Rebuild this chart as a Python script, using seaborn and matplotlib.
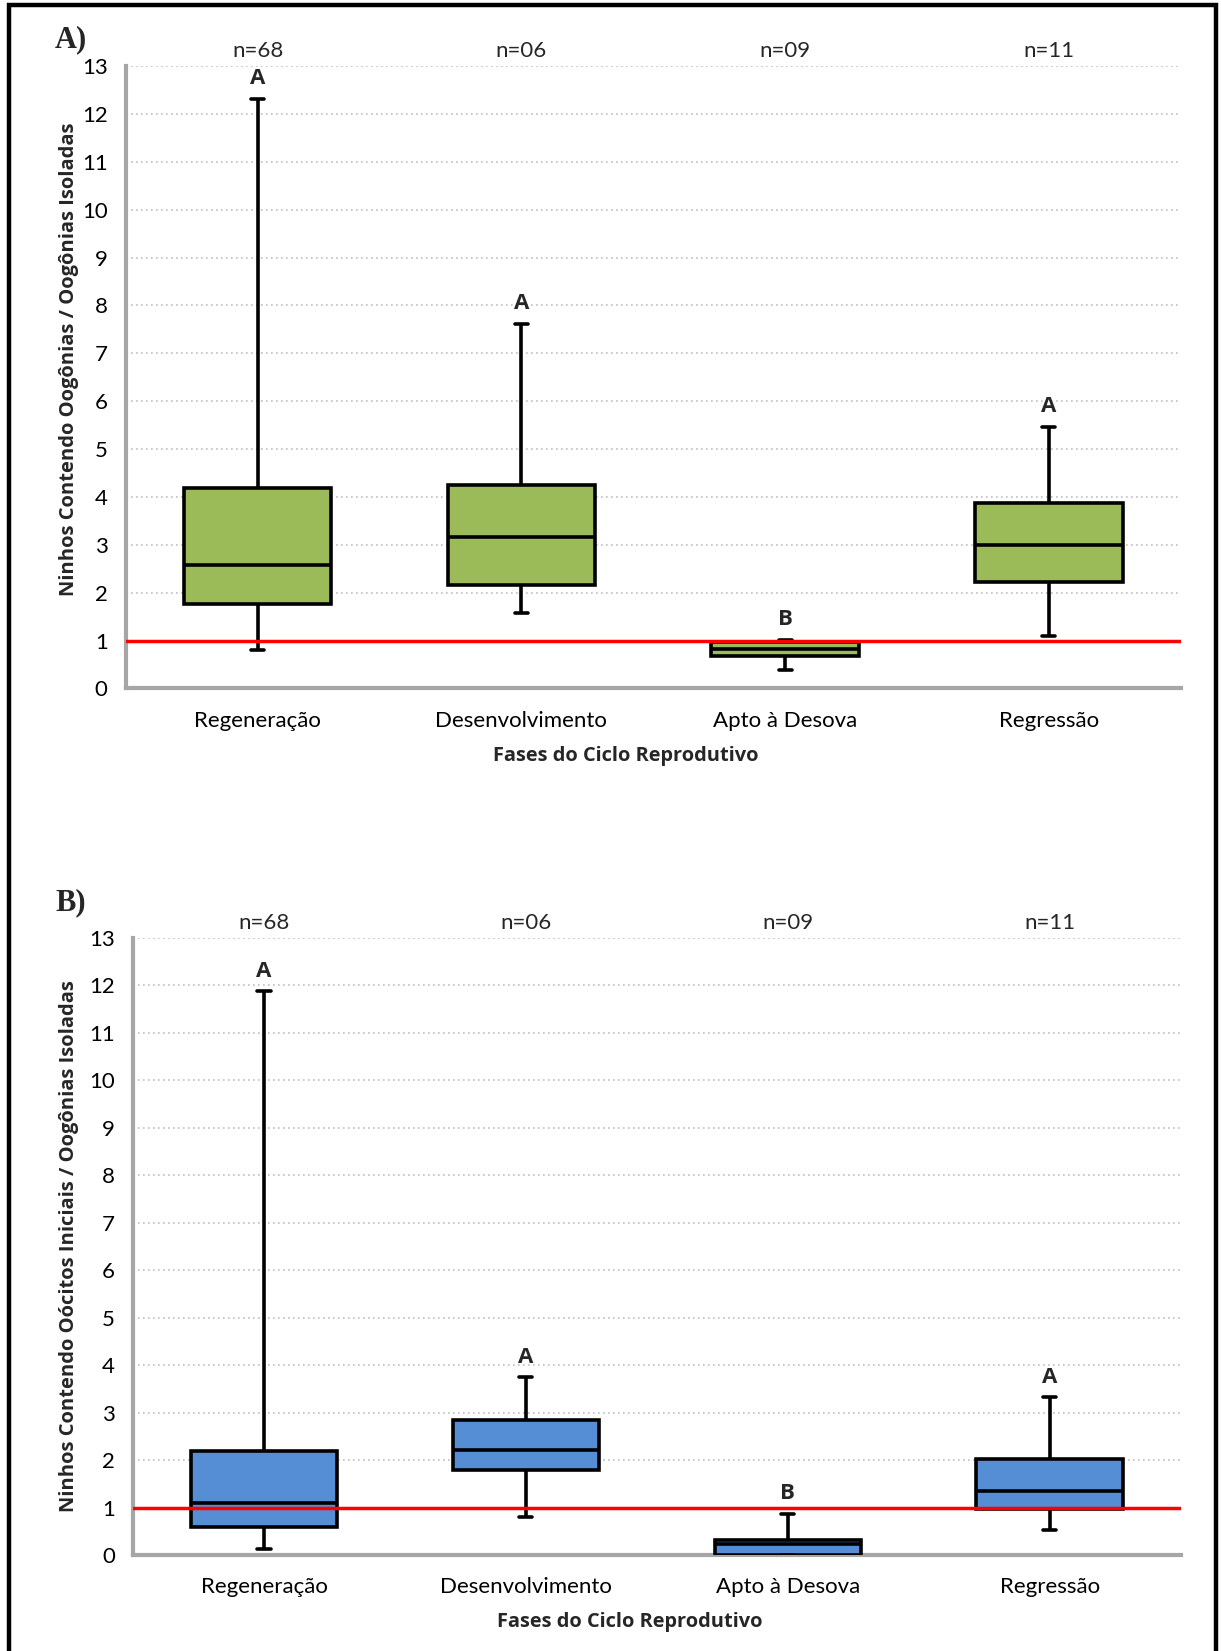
import matplotlib
matplotlib.use("Agg")
import matplotlib.pyplot as plt
import seaborn as sns
import pandas as pd
from matplotlib.patches import Rectangle

sns.set_theme(style="white")
plt.rcParams["font.family"] = ["Lato", "DejaVu Sans"]

COR_EIXO = "#A6A6A6"
VERDE = "#9BBB59"
AZUL = "#558ED5"
FONTE_NEGRITO = ["Open Sans", "DejaVu Sans"]

fases = ["Regeneração", "Desenvolvimento", "Apto à Desova", "Regressão"]
n_amostras = ["n=68", "n=06", "n=09", "n=11"]

# painel A - ninhos contendo oogonias / oogonias isoladas (resumo de 5 numeros)
a_min = [0.81, 1.58, 0.39, 1.10]
a_q1 = [1.76, 2.16, 0.68, 2.22]
a_med = [2.57, 3.17, 0.83, 2.99]
a_q3 = [4.18, 4.25, 0.97, 3.87]
a_max = [12.32, 7.61, 1.02, 5.46]
a_letras = ["A", "A", "B", "A"]

# painel B - ninhos contendo oocitos iniciais / oogonias isoladas
b_min = [0.13, 0.80, 0.00, 0.53]
b_q1 = [0.60, 1.80, 0.00, 0.98]
b_med = [1.11, 2.22, 0.24, 1.35]
b_q3 = [2.20, 2.84, 0.33, 2.02]
b_max = [11.87, 3.75, 0.87, 3.33]
b_letras = ["A", "A", "B", "A"]


def montar_tabela(minimos, q1, med, q3, maximos):
    """Cada fase vira 5 pontos (min, q1, mediana, q3, max) -> o boxplot recupera os quartis."""
    linhas = []
    for fase, valores in zip(fases, zip(minimos, q1, med, q3, maximos)):
        for v in valores:
            linhas.append({"fase": fase, "valor": v})
    return pd.DataFrame(linhas)


def desenhar_painel(ax, minimos, q1, med, q3, maximos, letras, cor, ylabel, ylabel_x, ylabel_y):
    df = montar_tabela(minimos, q1, med, q3, maximos)
    sns.boxplot(data=df, x="fase", y="valor", order=fases, color=cor, saturation=1,
                width=0.56, whis=(0, 100), linecolor="black", linewidth=2.6,
                capwidths=0.05, ax=ax, zorder=3)

    # linha de referencia em 1
    ax.axhline(1, color="red", linewidth=2.5, zorder=6)

    ax.set_xlim(-0.5, 3.5)
    ax.set_ylim(0, 13)
    ax.set_yticks(range(14))
    ax.yaxis.grid(True, linestyle=(0, (1, 2)), color="#BFBFBF", linewidth=1.2)
    ax.xaxis.grid(False)
    ax.set_axisbelow(True)

    for lado in ["top", "right"]:
        ax.spines[lado].set_visible(False)
    for lado in ["left", "bottom"]:
        ax.spines[lado].set_color(COR_EIXO)
        ax.spines[lado].set_linewidth(3)

    # ticks nas divisas das categorias, rotulos no centro
    ax.set_xticks([-0.5, 0.5, 1.5, 2.5, 3.5])
    ax.set_xticklabels([])
    ax.set_xticks(range(len(fases)), minor=True)
    ax.set_xticklabels(fases, minor=True)
    ax.tick_params(axis="x", which="major", direction="inout", length=13, width=3,
                   color=COR_EIXO)
    ax.tick_params(axis="x", which="minor", length=0, pad=16, labelsize=16,
                   labelcolor="black")
    ax.tick_params(axis="y", direction="out", length=6, width=3, color=COR_EIXO,
                   labelsize=16, pad=7, labelcolor="black")

    ax.set_xlabel("Fases do Ciclo Reprodutivo", fontsize=14.4, fontweight="bold",
                  family=FONTE_NEGRITO)
    ax.xaxis.set_label_coords(0.474, -0.092)
    ax.set_ylabel(ylabel, fontsize=14.5, fontweight="bold", family=FONTE_NEGRITO)
    ax.yaxis.set_label_coords(ylabel_x, ylabel_y)

    for i, (txt, letra, topo) in enumerate(zip(n_amostras, letras, maximos)):
        ax.text(i, 13.32, txt, ha="center", va="center", fontsize=16)
        ax.text(i, topo + 0.42, letra, ha="center", va="center", fontsize=16,
                fontweight="bold", family=FONTE_NEGRITO, zorder=7)


fig = plt.figure(figsize=(12.21, 16.51), dpi=100)
ax_a = fig.add_axes([0.103, 0.583, 0.864, 0.377])
ax_b = fig.add_axes([0.109, 0.058, 0.858, 0.374])

desenhar_painel(ax_a, a_min, a_q1, a_med, a_q3, a_max, a_letras, VERDE,
                "Ninhos Contendo Oogônias / Oogônias Isoladas", -0.044, 0.529)
desenhar_painel(ax_b, b_min, b_q1, b_med, b_q3, b_max, b_letras, AZUL,
                "Ninhos Contendo Oócitos Iniciais / Oogônias Isoladas", -0.052, 0.5)

fig.text(0.045, 0.976, "A)", fontsize=22, fontweight="bold", va="center",
         family="Liberation Serif")
fig.text(0.045, 0.453, "B)", fontsize=22, fontweight="bold", va="center",
         family="Liberation Serif")

# moldura preta em volta da figura
fig.add_artist(Rectangle((0.007, -0.01), 0.989, 1.007, transform=fig.transFigure,
                         fill=False, edgecolor="black", linewidth=3.2))

fig.savefig("out.png", dpi=100)
plt.close(fig)
